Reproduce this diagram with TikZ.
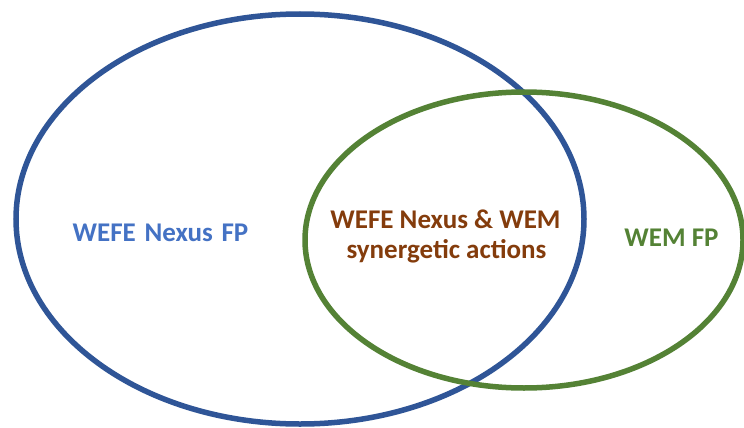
\documentclass[tikz,border=0pt]{standalone}
\usepackage{fontspec}
\setmainfont{Carlito}
\definecolor{cblue}{HTML}{2F5597}
\definecolor{cgreen}{HTML}{548235}
\definecolor{tblue}{HTML}{4472C4}
\definecolor{tbrown}{HTML}{843C0C}
\begin{document}
\begin{tikzpicture}[x=1pt,y=-1pt,
  ring/.style={line width=5.5pt},
  lbl/.style={font=\fontsize{27}{30}\selectfont\bfseries, inner sep=0pt, anchor=base}]
\useasboundingbox (0,0) rectangle (744,428);
\fill[white] (0,0) rectangle (744,428);
\draw[ring, cblue] (300,219) ellipse [x radius=284, y radius=205];
\draw[ring, cgreen] (524,240) ellipse [x radius=219, y radius=148];
\node[lbl, text=tblue] (wefe) at (160.5,241) {\spaceskip=0.32em\relax WEFE Nexus FP};
\node[lbl, text=tbrown] (both1) at (445.5,228) {WEFE Nexus \& WEM};
\node[lbl, text=tbrown] (both2) at (446.5,258) {synergetic actions};
\node[lbl, text=cgreen] (wem) at (671.5,246) {WEM FP};
\end{tikzpicture}
\end{document}
